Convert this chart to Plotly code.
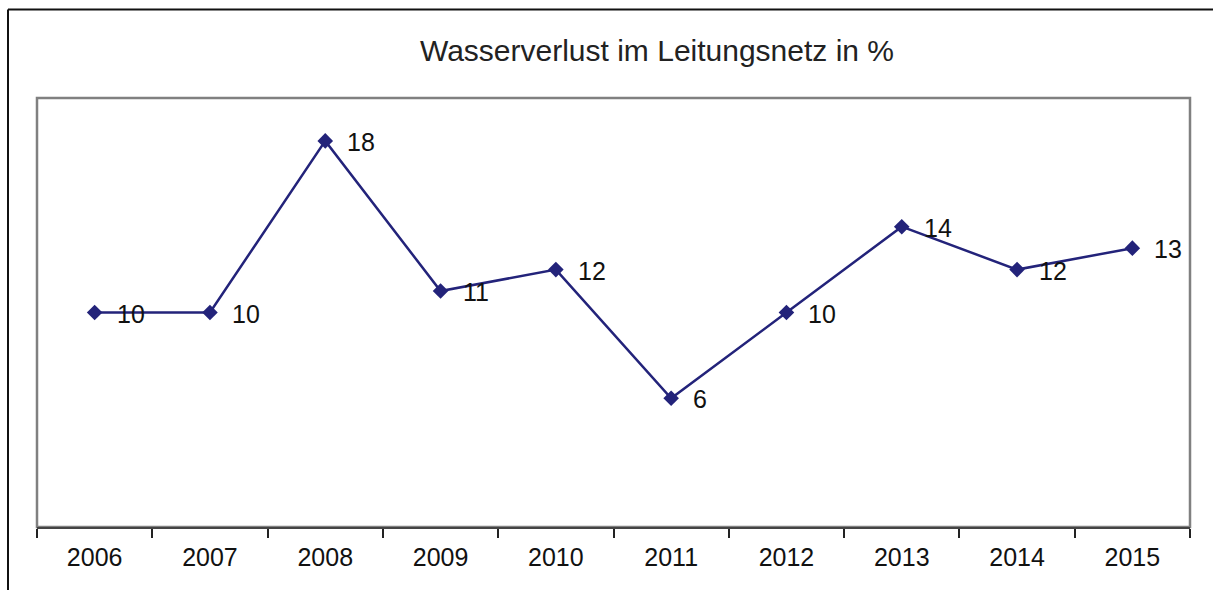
import plotly.graph_objects as go

years = ["2006", "2007", "2008", "2009", "2010", "2011", "2012", "2013", "2014", "2015"]
loss_pct = [10, 10, 18, 11, 12, 6, 10, 14, 12, 13]
title_text = "Wasserverlust im Leitungsnetz in %"

line_color = "#23237a"
font_family = "Liberation Sans, Arial, sans-serif"

fig = go.Figure()
fig.add_trace(go.Scatter(
    x=years, y=loss_pct, mode="lines+markers",
    line=dict(color=line_color, width=2.5),
    marker=dict(symbol="diamond", size=12, color=line_color),
    hoverinfo="x+y", showlegend=False,
))

annotations = []
for i, v in enumerate(loss_pct):
    annotations.append(dict(
        x=i, y=v, xref="x", yref="y", text=str(v), showarrow=False,
        xanchor="left", yanchor="middle", xshift=20, yshift=-1,
        font=dict(family=font_family, size=25, color="#111111"),
    ))

fig.update_layout(
    width=1213, height=590,
    margin=dict(l=37, r=23, t=98, b=63),
    paper_bgcolor="white", plot_bgcolor="white",
    title=dict(text=title_text, x=657 / 1213, xref="container", xanchor="center",
               y=1 - 50 / 590, yref="container", yanchor="middle",
               font=dict(family=font_family, size=30, color="#222222")),
    xaxis=dict(type="category", range=[-0.5, 9.5], tickson="boundaries",
               ticks="outside", ticklen=9, tickwidth=1.5, tickcolor="#222222",
               ticklabelstandoff=7,
               showline=True, linecolor="#444444", linewidth=2,
               showgrid=False, zeroline=False,
               tickfont=dict(family=font_family, size=25, color="#111111")),
    yaxis=dict(range=[0, 20], visible=False, showgrid=False, zeroline=False),
    annotations=annotations,
    shapes=[
        # plot area border (gray)
        dict(type="rect", xref="paper", yref="paper", x0=0, y0=0, x1=1, y1=1,
             line=dict(color="#808080", width=2.5), layer="below"),
        # outer chart frame (top and left visible)
        dict(type="line", xref="paper", yref="paper",
             x0=(8 - 37) / 1153, x1=(1213 - 37) / 1153 + 0.01,
             y0=(527 - 9.5) / 429, y1=(527 - 9.5) / 429,
             line=dict(color="#111111", width=2)),
        dict(type="line", xref="paper", yref="paper",
             x0=(8 - 37) / 1153, x1=(8 - 37) / 1153,
             y0=(527 - 9.5) / 429, y1=(527 - 595) / 429,
             line=dict(color="#111111", width=2)),
    ],
)

fig.write_html("out.html", config={"displayModeBar": False},
               post_script="document.body.style.margin='0';document.body.style.overflow='hidden';")
